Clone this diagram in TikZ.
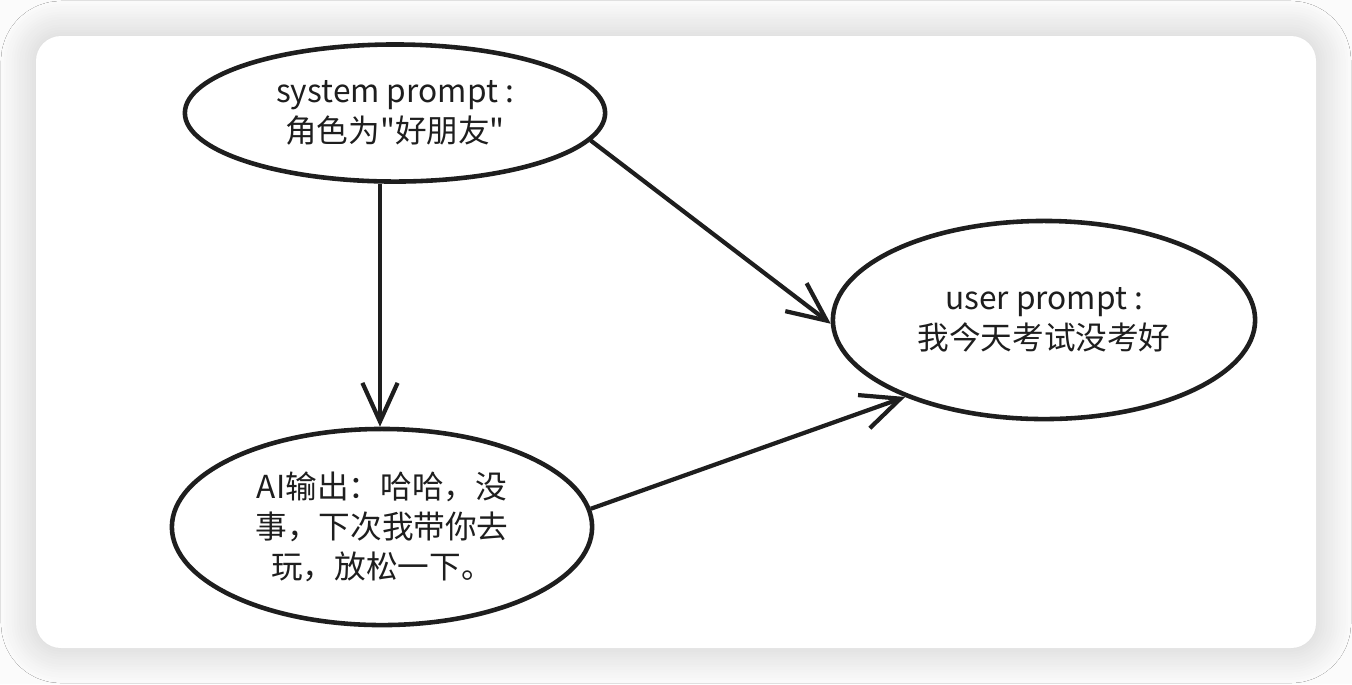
\documentclass[tikz,border=0pt]{standalone}
\usepackage{fontspec}
\setmainfont{Noto Sans CJK SC}[Ligatures=TeXOff]
\usetikzlibrary{shapes.geometric,arrows.meta,shadows.blur}
\definecolor{ink}{HTML}{1E1E1E}
\definecolor{pagebg}{HTML}{FBFBFB}

\begin{document}
\begin{tikzpicture}[
  x=0.01cm, y=-0.01cm,
  bubble/.style={ellipse, draw=ink, line width=1.3pt, fill=white, inner sep=0pt,
    font=\fontsize{9}{11.4}\selectfont, text=ink, align=center},
  arr/.style={-{Straight Barb[length=11pt,width=10pt]}, line width=1.2pt, ink}
]
  \useasboundingbox[fill=pagebg] (0,0) rectangle (1352,684);
  \fill[white, rounded corners=0.25cm,
    blur shadow={shadow blur steps=14, shadow blur radius=0.35cm, shadow xshift=0pt,
      shadow yshift=0pt, shadow opacity=20}]
    (36,36) rectangle (1316,648);

  \node[bubble, minimum width=4.2cm, minimum height=1.37cm] (sys) at (395,113)
    {system prompt :\\角色为"好朋友"};
  \node[bubble, minimum width=4.22cm, minimum height=1.98cm] (usr) at (1044,320)
    {user prompt :\\我今天考试没考好};
  \node[bubble, minimum width=4.2cm, minimum height=1.96cm] (ai) at (382,527)
    {AI输出：哈哈，没\\事，下次我带你去\\玩，放松一下。};

  \draw[arr] (sys.258) -- (sys.258 |- ai.north);
  \draw[arr] (sys.-8.5) -- (usr.181);
  \draw[arr] (ai.5) -- (usr.209);
\end{tikzpicture}
\end{document}
